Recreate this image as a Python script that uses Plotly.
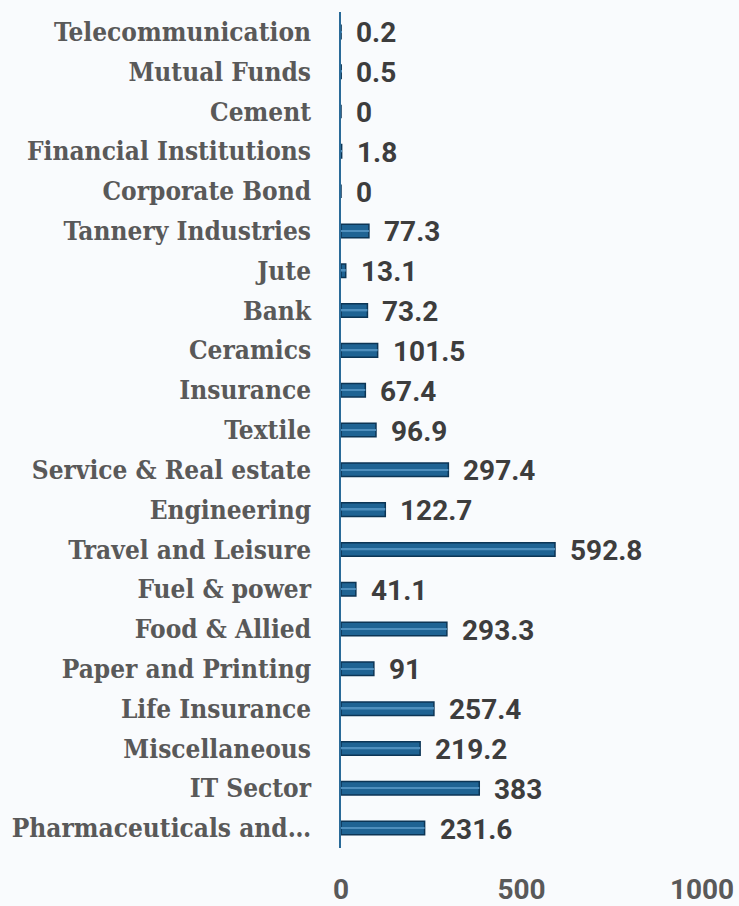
import plotly.graph_objects as go

sectors = [
    "Telecommunication", "Mutual Funds", "Cement", "Financial Institutions",
    "Corporate Bond", "Tannery Industries", "Jute", "Bank", "Ceramics",
    "Insurance", "Textile", "Service & Real estate", "Engineering",
    "Travel and Leisure", "Fuel & power", "Food & Allied", "Paper and Printing",
    "Life Insurance", "Miscellaneous", "IT Sector", "Pharmaceuticals and…",
]
values = [
    0.2, 0.5, 0, 1.8, 0, 77.3, 13.1, 73.2, 101.5, 67.4, 96.9, 297.4,
    122.7, 592.8, 41.1, 293.3, 91, 257.4, 219.2, 383, 231.6,
]
value_labels = ["0" if v == 0 else f"{v:g}" for v in values]
x_ticks = [0, 500, 1000]

BG = "#f9fbfd"
LABEL_GREY = "#595959"
VALUE_GREY = "#3d3d3d"

fig = go.Figure()

# main bar body
fig.add_trace(
    go.Bar(
        x=values,
        y=sectors,
        orientation="h",
        marker={"color": "#1f6393", "line": {"color": "#0c3555", "width": 1.5}},
        width=0.34,
        hoverinfo="x+y",
    )
)
# thin highlight stripe for the bevelled look
fig.add_trace(
    go.Bar(
        x=values,
        y=sectors,
        orientation="h",
        marker={"color": "#4f8fbd", "line": {"width": 0}},
        width=0.04,
        hoverinfo="skip",
    )
)

for s, v, lab in zip(sectors, values, value_labels):
    fig.add_annotation(
        x=v, y=s, text=lab, showarrow=False,
        xanchor="left", xshift=13, yshift=-1,
        font={"family": "Roboto", "size": 28, "color": VALUE_GREY, "weight": "bold"},
    )

fig.update_layout(
    width=739,
    height=906,
    barmode="overlay",
    showlegend=False,
    plot_bgcolor=BG,
    paper_bgcolor=BG,
    margin={"l": 341, "r": 37, "t": 12, "b": 58},
)
fig.update_xaxes(
    range=[0, 1000],
    tickvals=x_ticks,
    showgrid=False,
    zeroline=False,
    showline=False,
    automargin=False,
    ticklabelstandoff=22,
    tickfont={"family": "Roboto", "size": 28, "color": LABEL_GREY, "weight": "bold"},
)
fig.update_yaxes(
    autorange="reversed",
    showgrid=False,
    zeroline=False,
    showline=True,
    automargin=False,
    linecolor="#2a6a98",
    linewidth=1.5,
    ticklabelstandoff=23,
    tickfont={"family": "DejaVu Serif Condensed", "size": 26, "color": LABEL_GREY, "weight": "bold"},
)

fig.write_html(
    "out.html",
    config={"displayModeBar": False},
    post_script="document.body.style.margin='0';document.body.style.background='%s';" % BG,
)
